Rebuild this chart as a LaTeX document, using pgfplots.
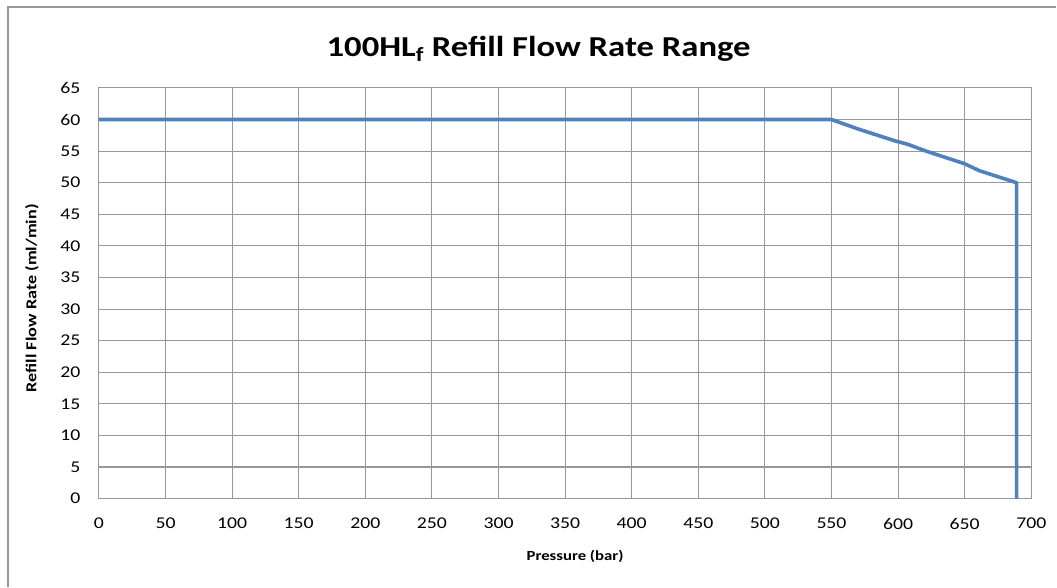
\documentclass[border=0pt]{standalone}
\usepackage{fontspec}
\setmainfont{Carlito}[FakeStretch=1.2]
\usepackage{pgfplots}
\pgfplotsset{compat=1.18}
\definecolor{lineblue}{HTML}{4F81BD}
\definecolor{gridgray}{HTML}{979797}
\begin{document}
\begin{tikzpicture}[x=1bp,y=1bp]
\begin{axis}[
  at={(0,0)}, anchor=south west,
  scale only axis,
  width=933bp, height=411bp,
  xmin=0, xmax=700, ymin=0, ymax=65,
  xtick={0,50,...,700}, ytick={0,5,...,65},
  grid=major,
  grid style={gridgray, line width=1.1bp},
  axis line style={gridgray, line width=1.1bp},
  major tick length=0pt,
  /pgf/number format/assume math mode=true,
  tick label style={font=\fontsize{16.5}{18}\selectfont, text=black},
  xticklabel style={yshift=-16bp},
  yticklabel style={xshift=-15bp},
  xlabel={\textbf{Pressure (bar)}},
  ylabel={\textbf{Refill Flow Rate (ml/min)}},
  xlabel style={font=\fontsize{14}{16}\selectfont, at={(axis description cs:0.5,0)}, anchor=center, xshift=10bp, yshift=-58bp},
  ylabel style={font=\fontsize{15.2}{17}\selectfont, at={(axis description cs:0,0.5)}, anchor=center, yshift=67bp, xshift=-5bp},
  clip=false,
]
\addplot[lineblue, line width=3.6bp, line join=round] coordinates {
(0,60) (550,60) (570,58.5) (598,56.6) (607,56.1) (621,55) (650,53) (661,51.9) (689,50) (689,0)
};
\end{axis}
\draw[gridgray, line width=1.5bp] (-91,-88) -- (-91,492) -- (958,492);
\node[font=\fontsize{29}{32}\selectfont\bfseries] at (440,450) {100HL\textsubscript{f} Refill Flow Rate Range};
\useasboundingbox (-99,-88) rectangle (958,499);
\end{tikzpicture}
\end{document}
